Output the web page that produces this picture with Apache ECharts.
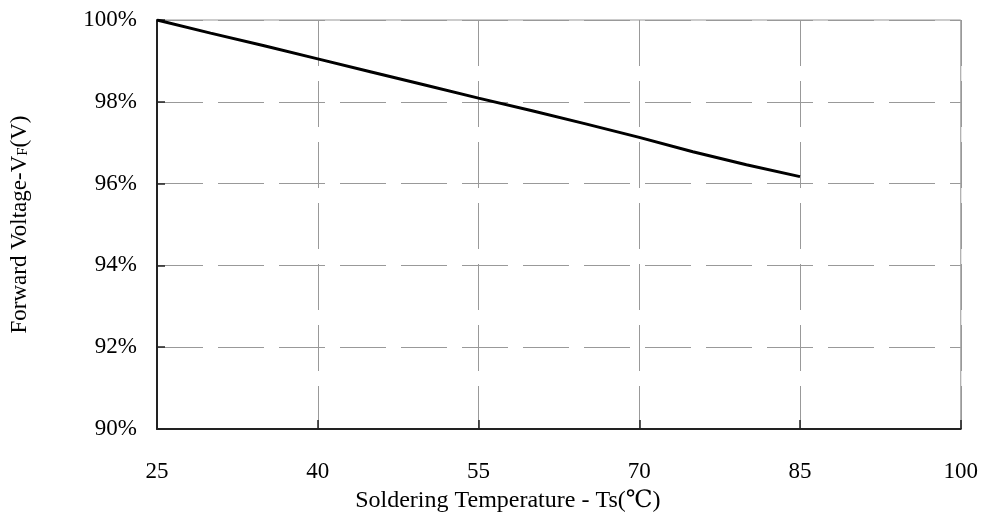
<!DOCTYPE html>
<html>
<head>
<meta charset="utf-8">
<script src="https://cdn.jsdelivr.net/npm/echarts@6/dist/echarts.min.js"></script>
<style>
html, body { margin: 0; padding: 0; background: #fff; }
#chart { width: 981px; height: 518px; }
</style>
</head>
<body>
<div id="chart"></div>
<script>
// soldering temperature (°C) and relative forward voltage (%)
var temps = [25, 30, 35, 40, 45, 50, 55, 60, 65, 70, 75, 80, 85];
var vfRate = [100, 99.68, 99.37, 99.05, 98.73, 98.41, 98.09, 97.78, 97.46, 97.13, 96.78, 96.46, 96.17];
var xTicks = [25, 40, 55, 70, 85, 100];
var yTicks = [90, 92, 94, 96, 98, 100];

var points = [];
for (var i = 0; i < temps.length; i++) {
    points.push([temps[i], vfRate[i]]);
}

var font = '"Liberation Serif", "DejaVu Serif", serif';

var myChart = echarts.init(document.getElementById('chart'));
var option = {
    animation: false,
    grid: {
        left: 157,
        right: 19,
        top: 20,
        bottom: 89,
        show: true,
        borderColor: '#999',
        borderWidth: 1
    },
    xAxis: {
        type: 'value',
        min: 25,
        max: 100,
        interval: 15,
        name: 'Soldering Temperature - Ts(℃)',
        nameLocation: 'middle',
        nameGap: 60,
        nameTextStyle: { fontFamily: font, fontSize: 24, color: '#000', padding: [0, 102, 0, 0] },
        axisLine: { show: true, lineStyle: { color: '#222', width: 2 } },
        axisTick: { show: true, inside: true, length: 9, lineStyle: { color: '#222', width: 1.5 } },
        axisLabel: {
            margin: 31,
            fontFamily: font,
            fontSize: 23,
            color: '#000',
            formatter: function (v) { return xTicks.indexOf(v) >= 0 ? String(v) : ''; }
        },
        splitLine: { show: true, lineStyle: { color: '#999', width: 1, type: [46, 15] } }
    },
    yAxis: {
        type: 'value',
        min: 90,
        max: 100,
        interval: 2,
        name: 'Forward Voltage-V{sub|F}(V)',
        nameLocation: 'middle',
        nameGap: 126,
        nameTextStyle: {
            fontFamily: font,
            fontSize: 23,
            color: '#000',
            rich: {
                sub: { fontFamily: font, fontSize: 15, color: '#000', verticalAlign: 'bottom', padding: [8, 0, 0, 0] }
            }
        },
        axisLine: { show: true, lineStyle: { color: '#222', width: 2 } },
        axisTick: { show: true, inside: true, length: 8, lineStyle: { color: '#222', width: 1.5 } },
        axisLabel: {
            margin: 20,
            fontFamily: font,
            fontSize: 23,
            color: '#000',
            formatter: function (v) { return yTicks.indexOf(v) >= 0 ? v + '%' : ''; }
        },
        splitLine: { show: true, lineStyle: { color: '#999', width: 1, type: [46, 15] } }
    },
    series: [
        {
            type: 'line',
            data: points,
            showSymbol: false,
            smooth: false,
            lineStyle: { color: '#000', width: 3 }
        }
    ]
};
myChart.setOption(option);
</script>
</body>
</html>
